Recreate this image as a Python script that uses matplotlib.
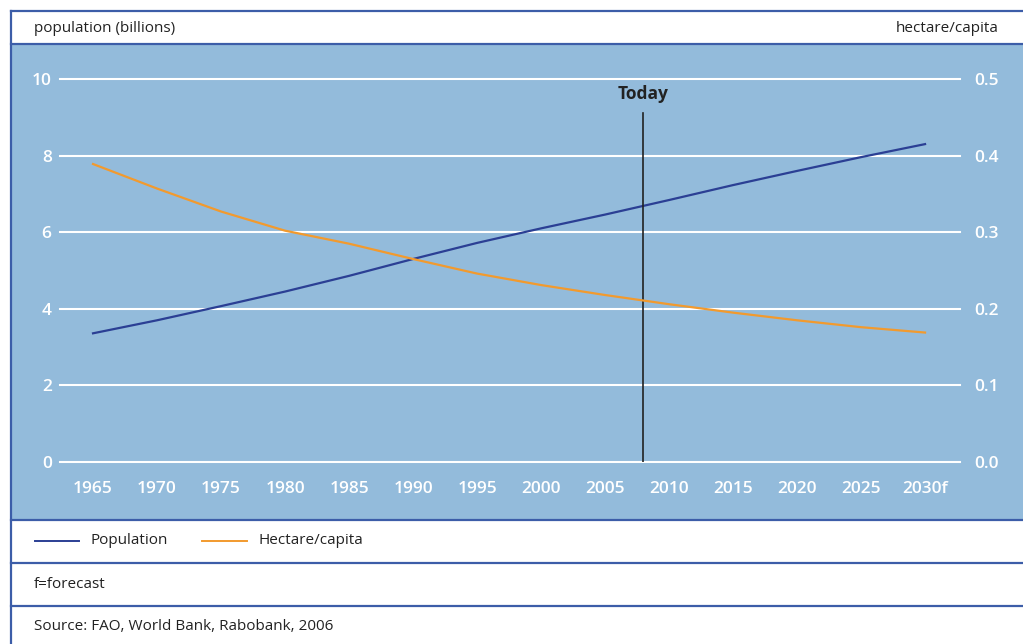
import matplotlib.pyplot as plt
from matplotlib.lines import Line2D
from matplotlib.patches import Rectangle

# data
years = [1965, 1970, 1975, 1980, 1985, 1990, 1995, 2000, 2005, 2010, 2015, 2020, 2025, 2030]
year_labels = ['1965', '1970', '1975', '1980', '1985', '1990', '1995', '2000',
               '2005', '2010', '2015', '2020', '2025', '2030f']
population = [3.36, 3.70, 4.07, 4.45, 4.86, 5.30, 5.72, 6.10, 6.46, 6.84, 7.23, 7.60, 7.96, 8.30]
hectare = [0.389, 0.357, 0.327, 0.302, 0.285, 0.265, 0.246, 0.231, 0.218, 0.206, 0.195, 0.185, 0.176, 0.169]
left_ticks = [0, 2, 4, 6, 8, 10]
right_ticks = [0.0, 0.1, 0.2, 0.3, 0.4, 0.5]
today_year = 2008
today_top = 9.1

panel_blue = '#93bbdb'
pop_blue = '#2b3f94'
orange = '#f29a2e'
border = '#3c5da8'
dark = '#222222'

plt.rcParams['font.family'] = ['Open Sans', 'DejaVu Sans']

W, H = 1023, 644
fig = plt.figure(figsize=(W / 100, H / 100), dpi=100)
fig.patch.set_facecolor('white')


def fx(px):
    return px / W


def fy(py):
    return 1 - py / H


# blue panel, kept under the axes
fig.add_artist(Rectangle((fx(11), fy(520)), fx(W - 11), fy(44) - fy(520),
                         transform=fig.transFigure, facecolor=panel_blue,
                         edgecolor='none', zorder=-5))

# frame lines
for py in [11, 44, 520, 563, 606]:
    fig.add_artist(Line2D([fx(11), 1], [fy(py), fy(py)], transform=fig.transFigure,
                          color=border, lw=1.6))
fig.add_artist(Line2D([fx(11), fx(11)], [fy(11), 0], transform=fig.transFigure,
                      color=border, lw=1.6))

ax = fig.add_axes([fx(60), fy(462), fx(960) - fx(60), fy(79) - fy(462)])
ax.set_facecolor('none')
ax.set_xlim(1962.42, 2032.73)
ax.set_ylim(0, 10)
for v in left_ticks:
    ax.axhline(v, color='white', lw=1.5, zorder=1, clip_on=False)

ax.plot(years, population, color=pop_blue, lw=1.6, zorder=3)
ax.plot([today_year, today_year], [0, today_top], color=dark, lw=1.2, zorder=4)
ax.text(today_year, 9.6, 'Today', ha='center', va='center', fontsize=12.5,
        fontweight='bold', color=dark)

ax.set_xticks(years)
ax.set_xticklabels(year_labels)
ax.set_yticks(left_ticks)
ax.set_yticklabels([str(v) for v in left_ticks])
ax.tick_params(axis='x', length=0, pad=14, labelsize=12.5, labelcolor='white')
ax.tick_params(axis='y', length=0, pad=6, labelsize=12.5, labelcolor='white')
for lab in ax.get_xticklabels() + ax.get_yticklabels():
    lab.set_fontweight('semibold')
for s in ax.spines.values():
    s.set_visible(False)

ax2 = ax.twinx()
ax2.set_ylim(0, 0.5)
ax2.plot(years, hectare, color=orange, lw=1.6, zorder=3)
ax2.set_yticks(right_ticks)
ax2.set_yticklabels(['%.1f' % v for v in right_ticks])
ax2.tick_params(axis='y', length=0, pad=10, labelsize=12.5, labelcolor='white')
for lab in ax2.get_yticklabels():
    lab.set_fontweight('semibold')
for s in ax2.spines.values():
    s.set_visible(False)

# header texts
fs = 11
fig.text(fx(34), fy(29), 'population (billions)', ha='left', va='center',
         fontsize=fs, color=dark)
fig.text(fx(999), fy(29), 'hectare/capita', ha='right', va='center',
         fontsize=fs, color=dark)

# legend row
fig.add_artist(Line2D([fx(35), fx(79)], [fy(541), fy(541)], transform=fig.transFigure,
                      color=pop_blue, lw=1.4))
fig.text(fx(91), fy(541), 'Population', ha='left', va='center', fontsize=fs, color=dark)
fig.add_artist(Line2D([fx(202), fx(247)], [fy(541), fy(541)], transform=fig.transFigure,
                      color=orange, lw=1.4))
fig.text(fx(258), fy(541), 'Hectare/capita', ha='left', va='center', fontsize=fs, color=dark)

fig.text(fx(34), fy(584), 'f=forecast', ha='left', va='center', fontsize=fs, color=dark)
fig.text(fx(34), fy(627), 'Source: FAO, World Bank, Rabobank, 2006', ha='left', va='center',
         fontsize=fs, color=dark)

fig.savefig('out.png', dpi=100)
